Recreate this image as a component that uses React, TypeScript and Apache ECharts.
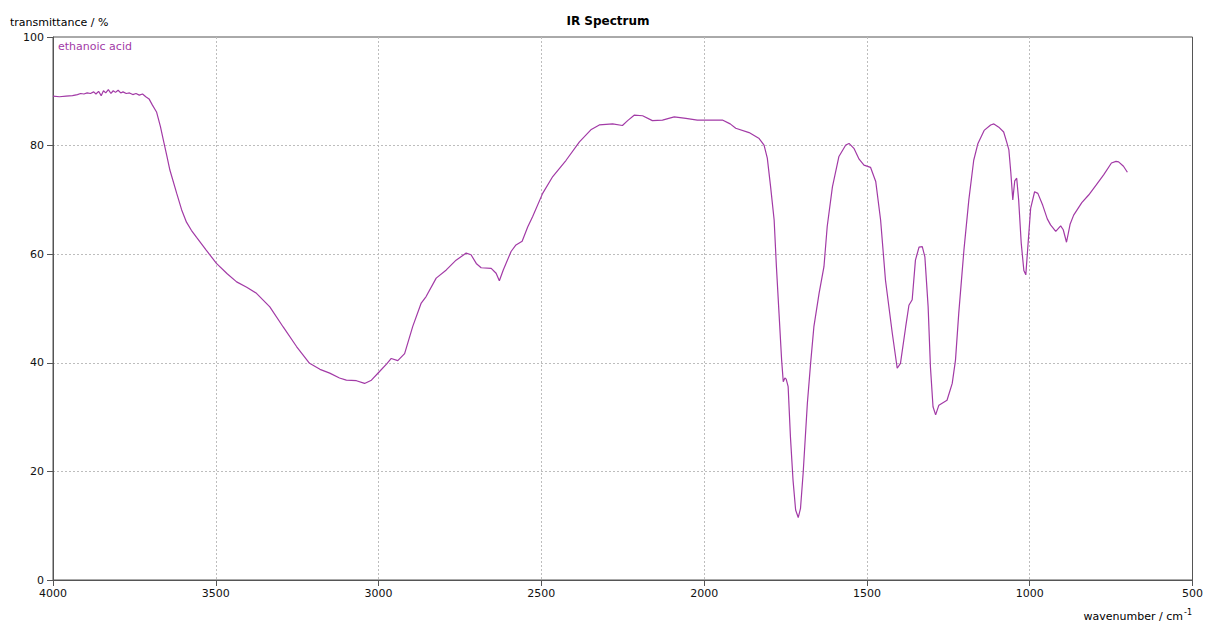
import React, { useEffect, useRef } from "react";
import * as echarts from "echarts";

const wavenumbers: number[] = [
  4000, 3980, 3960, 3940, 3925, 3915, 3905, 3895, 3885, 3875, 3868, 3860, 3852, 3845, 3838, 3830, 3822, 3815, 3808, 3800,
  3792, 3785, 3775, 3765, 3755, 3745, 3735, 3725, 3715, 3705, 3695, 3682, 3670, 3661, 3650, 3641, 3620, 3605, 3590, 3575,
  3559, 3530, 3498, 3465, 3436, 3405, 3375, 3334, 3293, 3252, 3212, 3180, 3150, 3120, 3099, 3068, 3043, 3022, 2997, 2975,
  2961, 2941, 2920, 2895, 2869, 2854, 2823, 2792, 2762, 2731, 2716, 2700, 2685, 2654, 2639, 2629, 2617, 2593, 2578, 2559,
  2542, 2527, 2496, 2465, 2424, 2383, 2348, 2322, 2281, 2251, 2235, 2215, 2189, 2159, 2128, 2092, 2056, 2021, 1944, 1920,
  1903, 1862, 1831, 1816, 1806, 1796, 1785, 1778, 1770, 1762, 1757, 1752, 1748, 1742, 1735, 1727, 1719, 1711, 1704, 1696,
  1683, 1673, 1663, 1647, 1632, 1622, 1606, 1586, 1565, 1555, 1540, 1524, 1509, 1489, 1473, 1458, 1443, 1422, 1407, 1397,
  1381, 1371, 1361, 1351, 1340, 1330, 1322, 1312, 1305, 1297, 1289, 1279, 1254, 1238, 1228, 1218, 1202, 1187, 1172, 1159,
  1140, 1120, 1110, 1095, 1080, 1070, 1064, 1058, 1052, 1046, 1040, 1034, 1026, 1018, 1012, 1005, 997, 985, 975, 960,
  946, 936, 920, 905, 897, 887, 876, 865, 840, 819, 795, 773, 749, 735, 727, 712, 700,
];

const transmittance: number[] = [
  89.1, 89.0, 89.1, 89.2, 89.4, 89.6, 89.5, 89.7, 89.6, 89.9, 89.5, 90.0, 89.2, 90.1, 89.7, 90.3, 89.6, 90.1, 89.8, 90.2,
  89.7, 89.9, 89.6, 89.7, 89.4, 89.6, 89.3, 89.5, 89.0, 88.6, 87.5, 86.2, 83.5, 81.0, 78.0, 75.5, 71.2, 68.2, 65.9, 64.4,
  63.1, 60.8, 58.3, 56.4, 54.9, 53.9, 52.8, 50.3, 46.6, 43.0, 39.9, 38.8, 38.1, 37.2, 36.8, 36.7, 36.2, 36.8, 38.4, 39.8,
  40.8, 40.4, 41.7, 46.7, 51.0, 52.2, 55.6, 57.1, 58.9, 60.2, 59.9, 58.3, 57.5, 57.4, 56.5, 55.1, 57.1, 60.5, 61.7, 62.4,
  65.0, 66.9, 71.2, 74.3, 77.3, 80.7, 82.9, 83.8, 84.0, 83.7, 84.6, 85.6, 85.5, 84.6, 84.7, 85.3, 85.0, 84.7, 84.7, 84.0,
  83.2, 82.4, 81.3, 80.1, 77.7, 72.5, 66.3, 57.7, 49.1, 40.5, 36.5, 37.2, 37.0, 35.6, 26.4, 18.4, 12.9, 11.5, 13.2, 19.6,
  32.5, 39.9, 46.6, 52.8, 57.7, 65.1, 72.4, 78.0, 80.1, 80.4, 79.5, 77.5, 76.4, 76.0, 73.4, 66.3, 55.2, 45.4, 39.0, 39.9,
  46.6, 50.6, 51.6, 58.9, 61.3, 61.4, 59.5, 50.3, 39.3, 31.9, 30.4, 32.2, 33.1, 36.2, 40.5, 49.1, 60.8, 70.0, 77.3, 80.4,
  82.8, 83.8, 84.0, 83.4, 82.5, 80.5, 79.2, 75.0, 70.0, 73.5, 74.0, 70.0, 62.0, 57.0, 56.2, 62.0, 68.5, 71.5, 71.2, 69.0,
  66.5, 65.4, 64.2, 65.2, 64.5, 62.2, 65.5, 67.2, 69.5, 70.9, 72.8, 74.6, 76.8, 77.1, 77.0, 76.2, 75.1,
];

const xTicks = { min: 500, max: 4000, interval: 500 };
const yTicks = { min: 0, max: 100, interval: 20 };

const titleText = "IR Spectrum";
const yAxisTitle = "transmittance / %";
const xAxisTitle = "wavenumber / cm";
const seriesName = "ethanoic acid";

const LINE_COLOR = "#a23aa6";
const FONT = "DejaVu Sans";

export default function App() {
  const ref = useRef<HTMLDivElement>(null);
  useEffect(() => {
    if (!ref.current) return;
    const chart = echarts.init(ref.current, null, { renderer: "svg" });
    const data = wavenumbers.map((w, i) => [w, transmittance[i]]);
    chart.setOption({
      animation: false,
      backgroundColor: "#ffffff",
      grid: {
        left: 53,
        top: 37,
        width: 1141,
        height: 543,
        show: true,
        borderColor: "#555555",
        borderWidth: 1,
        backgroundColor: "transparent",
      },
      xAxis: {
        type: "value",
        min: xTicks.min,
        max: xTicks.max,
        interval: xTicks.interval,
        inverse: true,
        axisLine: { show: true, lineStyle: { color: "#555555", width: 1 } },
        axisTick: { show: true, length: 6, lineStyle: { color: "#555555" } },
        axisLabel: {
          color: "#111111",
          fontFamily: FONT,
          fontSize: 11,
          margin: 8,
          formatter: (v: number) => String(v),
        },
        splitLine: {
          show: true,
          showMinLine: false,
          showMaxLine: false,
          lineStyle: { color: "#bdbdbd", type: [2, 2], width: 1 },
        },
      },
      yAxis: {
        type: "value",
        min: yTicks.min,
        max: yTicks.max,
        interval: yTicks.interval,
        axisLine: { show: true, lineStyle: { color: "#555555", width: 1 } },
        axisTick: { show: true, length: 6, lineStyle: { color: "#555555" } },
        axisLabel: {
          color: "#111111",
          fontFamily: FONT,
          fontSize: 11,
          margin: 9,
          formatter: (v: number) => String(v),
        },
        splitLine: {
          show: true,
          showMinLine: false,
          showMaxLine: false,
          lineStyle: { color: "#bdbdbd", type: [2, 2], width: 1 },
        },
      },
      series: [
        {
          name: seriesName,
          type: "line",
          data,
          showSymbol: false,
          symbol: "none",
          lineStyle: { color: LINE_COLOR, width: 1.2 },
          clip: true,
        },
      ],
      graphic: [
        {
          type: "text",
          style: {
            text: titleText,
            x: 608,
            y: 21,
            align: "center",
            verticalAlign: "middle",
            font: `bold 12px "${FONT}"`,
            fill: "#000000",
          },
        },
        {
          type: "text",
          style: {
            text: yAxisTitle,
            x: 10,
            y: 22,
            align: "left",
            verticalAlign: "middle",
            font: `11px "${FONT}"`,
            fill: "#000000",
          },
        },
        {
          type: "text",
          style: {
            text: seriesName,
            x: 58,
            y: 46,
            align: "left",
            verticalAlign: "middle",
            font: `11px "${FONT}"`,
            fill: LINE_COLOR,
          },
        },
        {
          type: "text",
          style: {
            text: xAxisTitle,
            x: 1183,
            y: 616,
            align: "right",
            verticalAlign: "middle",
            font: `11px "${FONT}"`,
            fill: "#000000",
          },
        },
        {
          type: "text",
          style: {
            text: "-1",
            x: 1184,
            y: 612,
            align: "left",
            verticalAlign: "middle",
            font: `8px "${FONT}"`,
            fill: "#000000",
          },
        },
      ],
    });
    return () => chart.dispose();
  }, []);
  return (
    <div
      ref={ref}
      style={{ position: "fixed", left: 0, top: 0, width: 1206, height: 623, background: "#fff" }}
    />
  );
}
